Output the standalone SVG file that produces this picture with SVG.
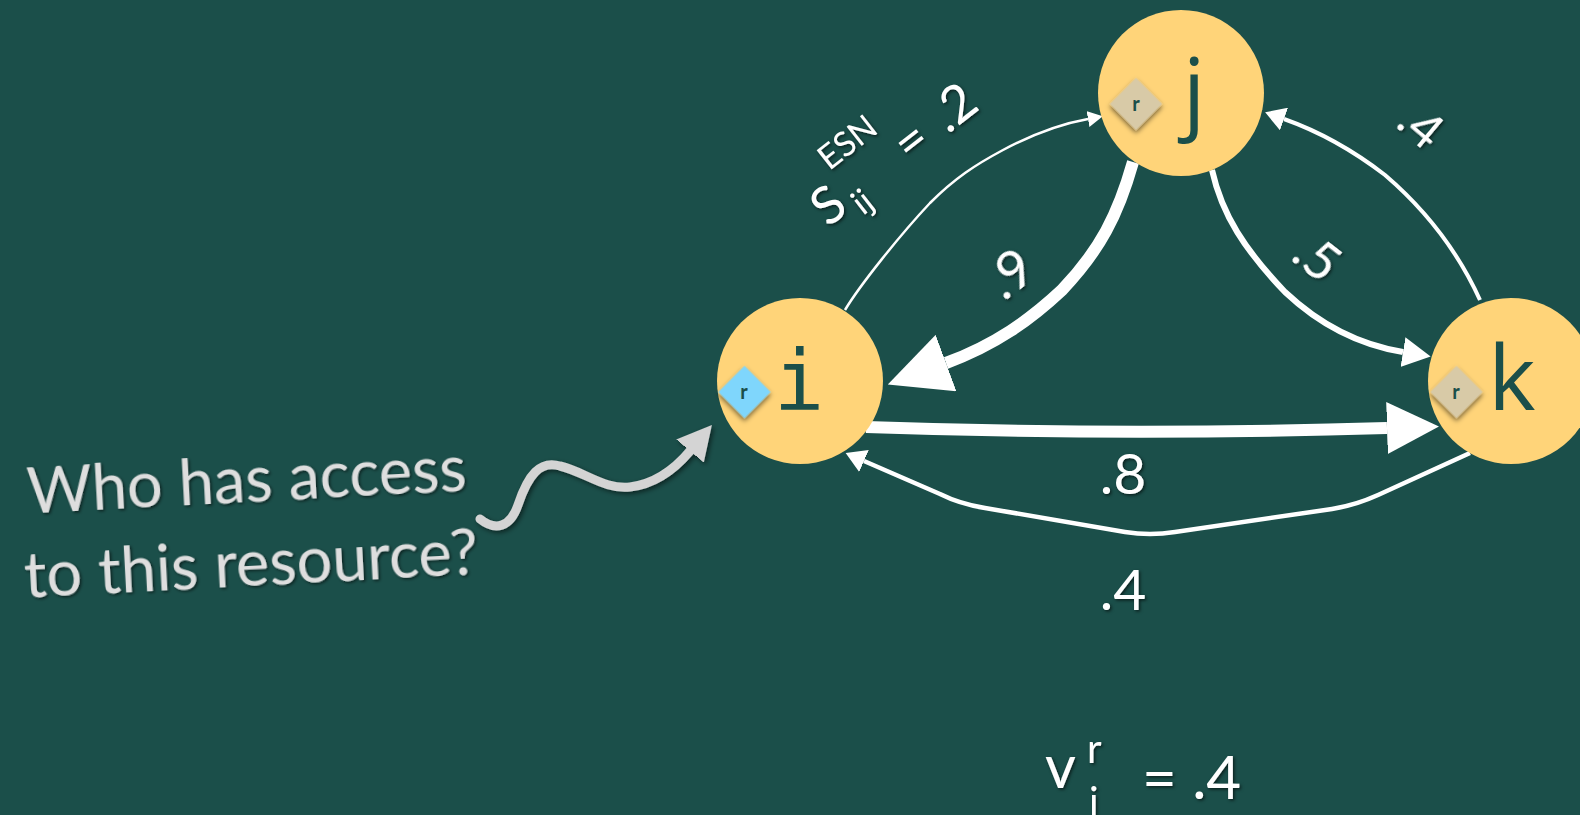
<svg xmlns="http://www.w3.org/2000/svg" width="1580" height="815" viewBox="0 0 1580 815">
<defs>
<style>
.bg{fill:#1b4f4a}
.node{fill:#ffd479}
.nl{font-family:"Open Sans",sans-serif;fill:#1b4f4a;font-size:90px}
.nlm{font-family:"DejaVu Sans Mono",monospace;fill:#1b4f4a;font-size:84px}
.edge{fill:none;stroke:#ffffff;stroke-linejoin:round}
.lbl{font-family:Lato,"Open Sans",sans-serif;fill:#ffffff}
.dia{stroke:none}
.r{font-family:Lato,"Open Sans",sans-serif;font-weight:bold;font-size:20px;fill:#1b4f4a;text-anchor:middle}
.q{font-family:Lato,"Open Sans",sans-serif;fill:#dedede;font-size:63px;text-anchor:middle}
.arrhead{fill:#ffffff}
</style>
<filter id="sh" x="-50%" y="-50%" width="200%" height="200%">
<feDropShadow dx="2" dy="2" stdDeviation="2.5" flood-color="#000" flood-opacity="0.55"/>
</filter>
<filter id="tsh" x="-20%" y="-20%" width="140%" height="140%">
<feDropShadow dx="1.5" dy="1.5" stdDeviation="1.5" flood-color="#000" flood-opacity="0.6"/>
</filter>
<marker id="aXL" markerUnits="userSpaceOnUse" markerWidth="62" markerHeight="60" refX="0" refY="30" orient="auto" viewBox="0 0 62 60"><path class="arrhead" d="M0,0 L62,30 L0,60 Z"/></marker>
<marker id="aL" markerUnits="userSpaceOnUse" markerWidth="52" markerHeight="52" refX="0" refY="26" orient="auto" viewBox="0 0 52 52"><path class="arrhead" d="M0,0 L52,26 L0,52 Z"/></marker>
<marker id="aM" markerUnits="userSpaceOnUse" markerWidth="28" markerHeight="30" refX="0" refY="15" orient="auto" viewBox="0 0 28 30"><path class="arrhead" d="M0,0 L28,15 L0,30 Z"/></marker>
<marker id="aS" markerUnits="userSpaceOnUse" markerWidth="20" markerHeight="24" refX="0" refY="12" orient="auto" viewBox="0 0 20 24"><path class="arrhead" d="M0,0 L20,12 L0,24 Z"/></marker>
<marker id="aXS" markerUnits="userSpaceOnUse" markerWidth="15" markerHeight="16" refX="0" refY="8" orient="auto" viewBox="0 0 15 16"><path class="arrhead" d="M0,0 L15,8 L0,16 Z"/></marker>
<marker id="aG" markerUnits="userSpaceOnUse" markerWidth="34" markerHeight="36" refX="0" refY="18" orient="auto" viewBox="0 0 34 36"><path fill="#d4d4d4" d="M0,0 L34,18 L0,36 Z"/></marker>
</defs>
<rect class="bg" x="0" y="0" width="1580" height="815"/>

<g id="connectors">
<path class="edge" stroke-width="2.5" marker-end="url(#aXS)" d="M845,310 C860,285 900,235 930,203 C955,178 975,165 1003,150 C1035,133 1060,124 1088,119"/>
<path class="edge" stroke-width="12" marker-end="url(#aXL)" d="M1133,162 C1118,215 1100,250 1062,290 C1030,320 995,345 946,363"/>
<path class="edge" stroke-width="6" marker-end="url(#aM)" d="M1212,170 C1222,215 1245,250 1285,292 C1320,325 1360,345 1403,352"/>
<path class="edge" stroke-width="4" marker-end="url(#aS)" d="M1480,300 C1455,245 1420,205 1385,175 C1350,148 1315,130 1284,119"/>
<path class="edge" stroke-width="12" marker-end="url(#aL)" d="M866,427 Q1125,436 1387,428"/>
<path class="edge" stroke-width="4.5" marker-end="url(#aS)" d="M1470,453 L1378,495 Q1356,505 1332,509 L1175,532 Q1150,536 1125,532 L985,508 Q960,504 940,494 L864,461"/>
<path fill="none" stroke="#d4d4d4" stroke-width="9" stroke-linecap="round" filter="url(#sh)" marker-end="url(#aG)" d="M480,519 C495,531 510,528 518,505 C528,475 540,460 560,466 C585,472 605,490 630,487 C655,484 674,470 690,451"/>
</g>

<g id="node-i">
<circle class="node" cx="800" cy="381" r="83"/>
<text class="nlm" x="799" y="410" text-anchor="middle">i</text>
<rect class="dia" x="-18.5" y="-18.5" width="37" height="37" fill="#7fd6fc" filter="url(#sh)" transform="translate(744.5,392) rotate(45)"/>
<text class="r" x="744" y="399">r</text>
</g>

<g id="node-j">
<circle class="node" cx="1181" cy="93" r="83"/>
<text class="nl" x="1194" y="122" text-anchor="middle" font-weight="500">j</text>
<rect class="dia" x="-18.5" y="-18.5" width="37" height="37" fill="#d8caa7" filter="url(#sh)" transform="translate(1136,104) rotate(45)"/>
<text class="r" x="1136" y="111">r</text>
</g>

<g id="node-k">
<circle class="node" cx="1511" cy="381" r="83"/>
<text class="nl" x="1512" y="410" text-anchor="middle">k</text>
<rect class="dia" x="-18.5" y="-18.5" width="37" height="37" fill="#d8caa7" filter="url(#sh)" transform="translate(1456.5,392) rotate(45)"/>
<text class="r" x="1456" y="399">r</text>
</g>

<g id="labels" filter="url(#tsh)">
<g transform="translate(828,228) rotate(-38)" class="lbl">
<text x="0" y="0" font-size="52">S</text>
<text x="35" y="12" font-size="34">ij</text>
<text x="36" y="-44" font-size="34">ESN</text>
<text x="104" y="0" font-size="52">=</text>
<text x="152" y="0" font-size="52">.2</text>
</g>
<text class="lbl" font-size="54" transform="translate(1004,302) rotate(-38)">.9</text>
<text class="lbl" font-size="52" transform="translate(1289,259) rotate(38)">.5</text>
<text class="lbl" font-size="50" transform="translate(1394,126) rotate(40)">.4</text>
<text class="lbl" font-size="57" x="1123" y="494" text-anchor="middle">.8</text>
<text class="lbl" font-size="57" x="1123" y="610" text-anchor="middle">.4</text>
<text class="lbl" font-size="60" x="1045" y="788">v</text>
<text class="lbl" font-size="40" x="1087" y="763">r</text>
<text class="lbl" font-size="40" x="1089" y="816">i</text>
<text class="lbl" font-size="60" x="1142" y="799">= .4</text>
</g>

<g id="question" filter="url(#tsh)" transform="translate(37,513) rotate(-3)">
<text class="q" x="211" y="0">Who has access</text>
<text class="q" x="211" y="84">to this resource?</text>
</g>
</svg>
